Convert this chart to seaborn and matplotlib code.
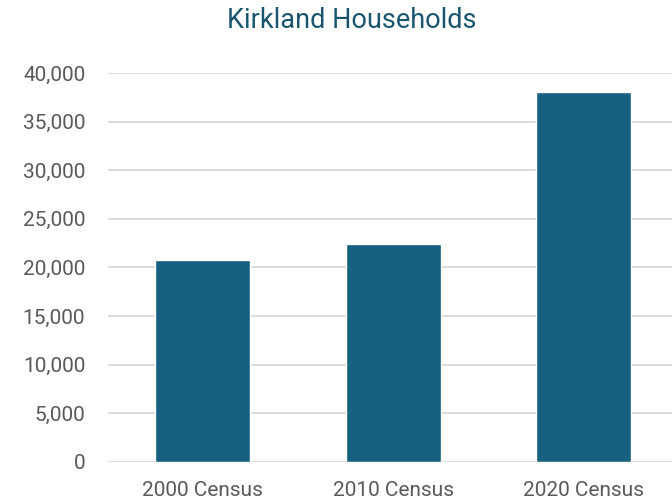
import pandas as pd
import matplotlib.pyplot as plt
import seaborn as sns
from matplotlib.ticker import FuncFormatter

censuses = ["2000 Census", "2010 Census", "2020 Census"]
households = [20750, 22450, 38050]

df = pd.DataFrame({"Census": censuses, "Households": households})

sns.set_style("white")
plt.rcParams["font.family"] = ["Roboto", "DejaVu Sans"]

fig = plt.figure(figsize=(6.72, 5.03), dpi=100)
ax = fig.add_axes([0.16, 0.082, 0.85, 0.773])

sns.barplot(x="Census", y="Households", data=df, color="#17607f",
            saturation=1, width=0.5, ax=ax, zorder=3)

ax.set_ylim(0, 40000)
ax.set_yticks(range(0, 40001, 5000))
ax.yaxis.set_major_formatter(FuncFormatter(lambda v, p: f"{int(v):,}"))
ax.grid(axis="y", color="#d9d9d9", linewidth=1.3, zorder=0)
ax.set_axisbelow(True)
for s in ax.spines.values():
    s.set_visible(False)
ax.tick_params(axis="both", length=0, labelsize=15, labelcolor="#595959")
ax.tick_params(axis="y", pad=16)
ax.tick_params(axis="x", pad=14)
ax.set_xlabel("")
ax.set_ylabel("")

fig.text(0.524, 0.96, "Kirkland Households", ha="center", va="center",
         fontsize=19.5, color="#1a5570")

fig.savefig("out.png", dpi=100)
